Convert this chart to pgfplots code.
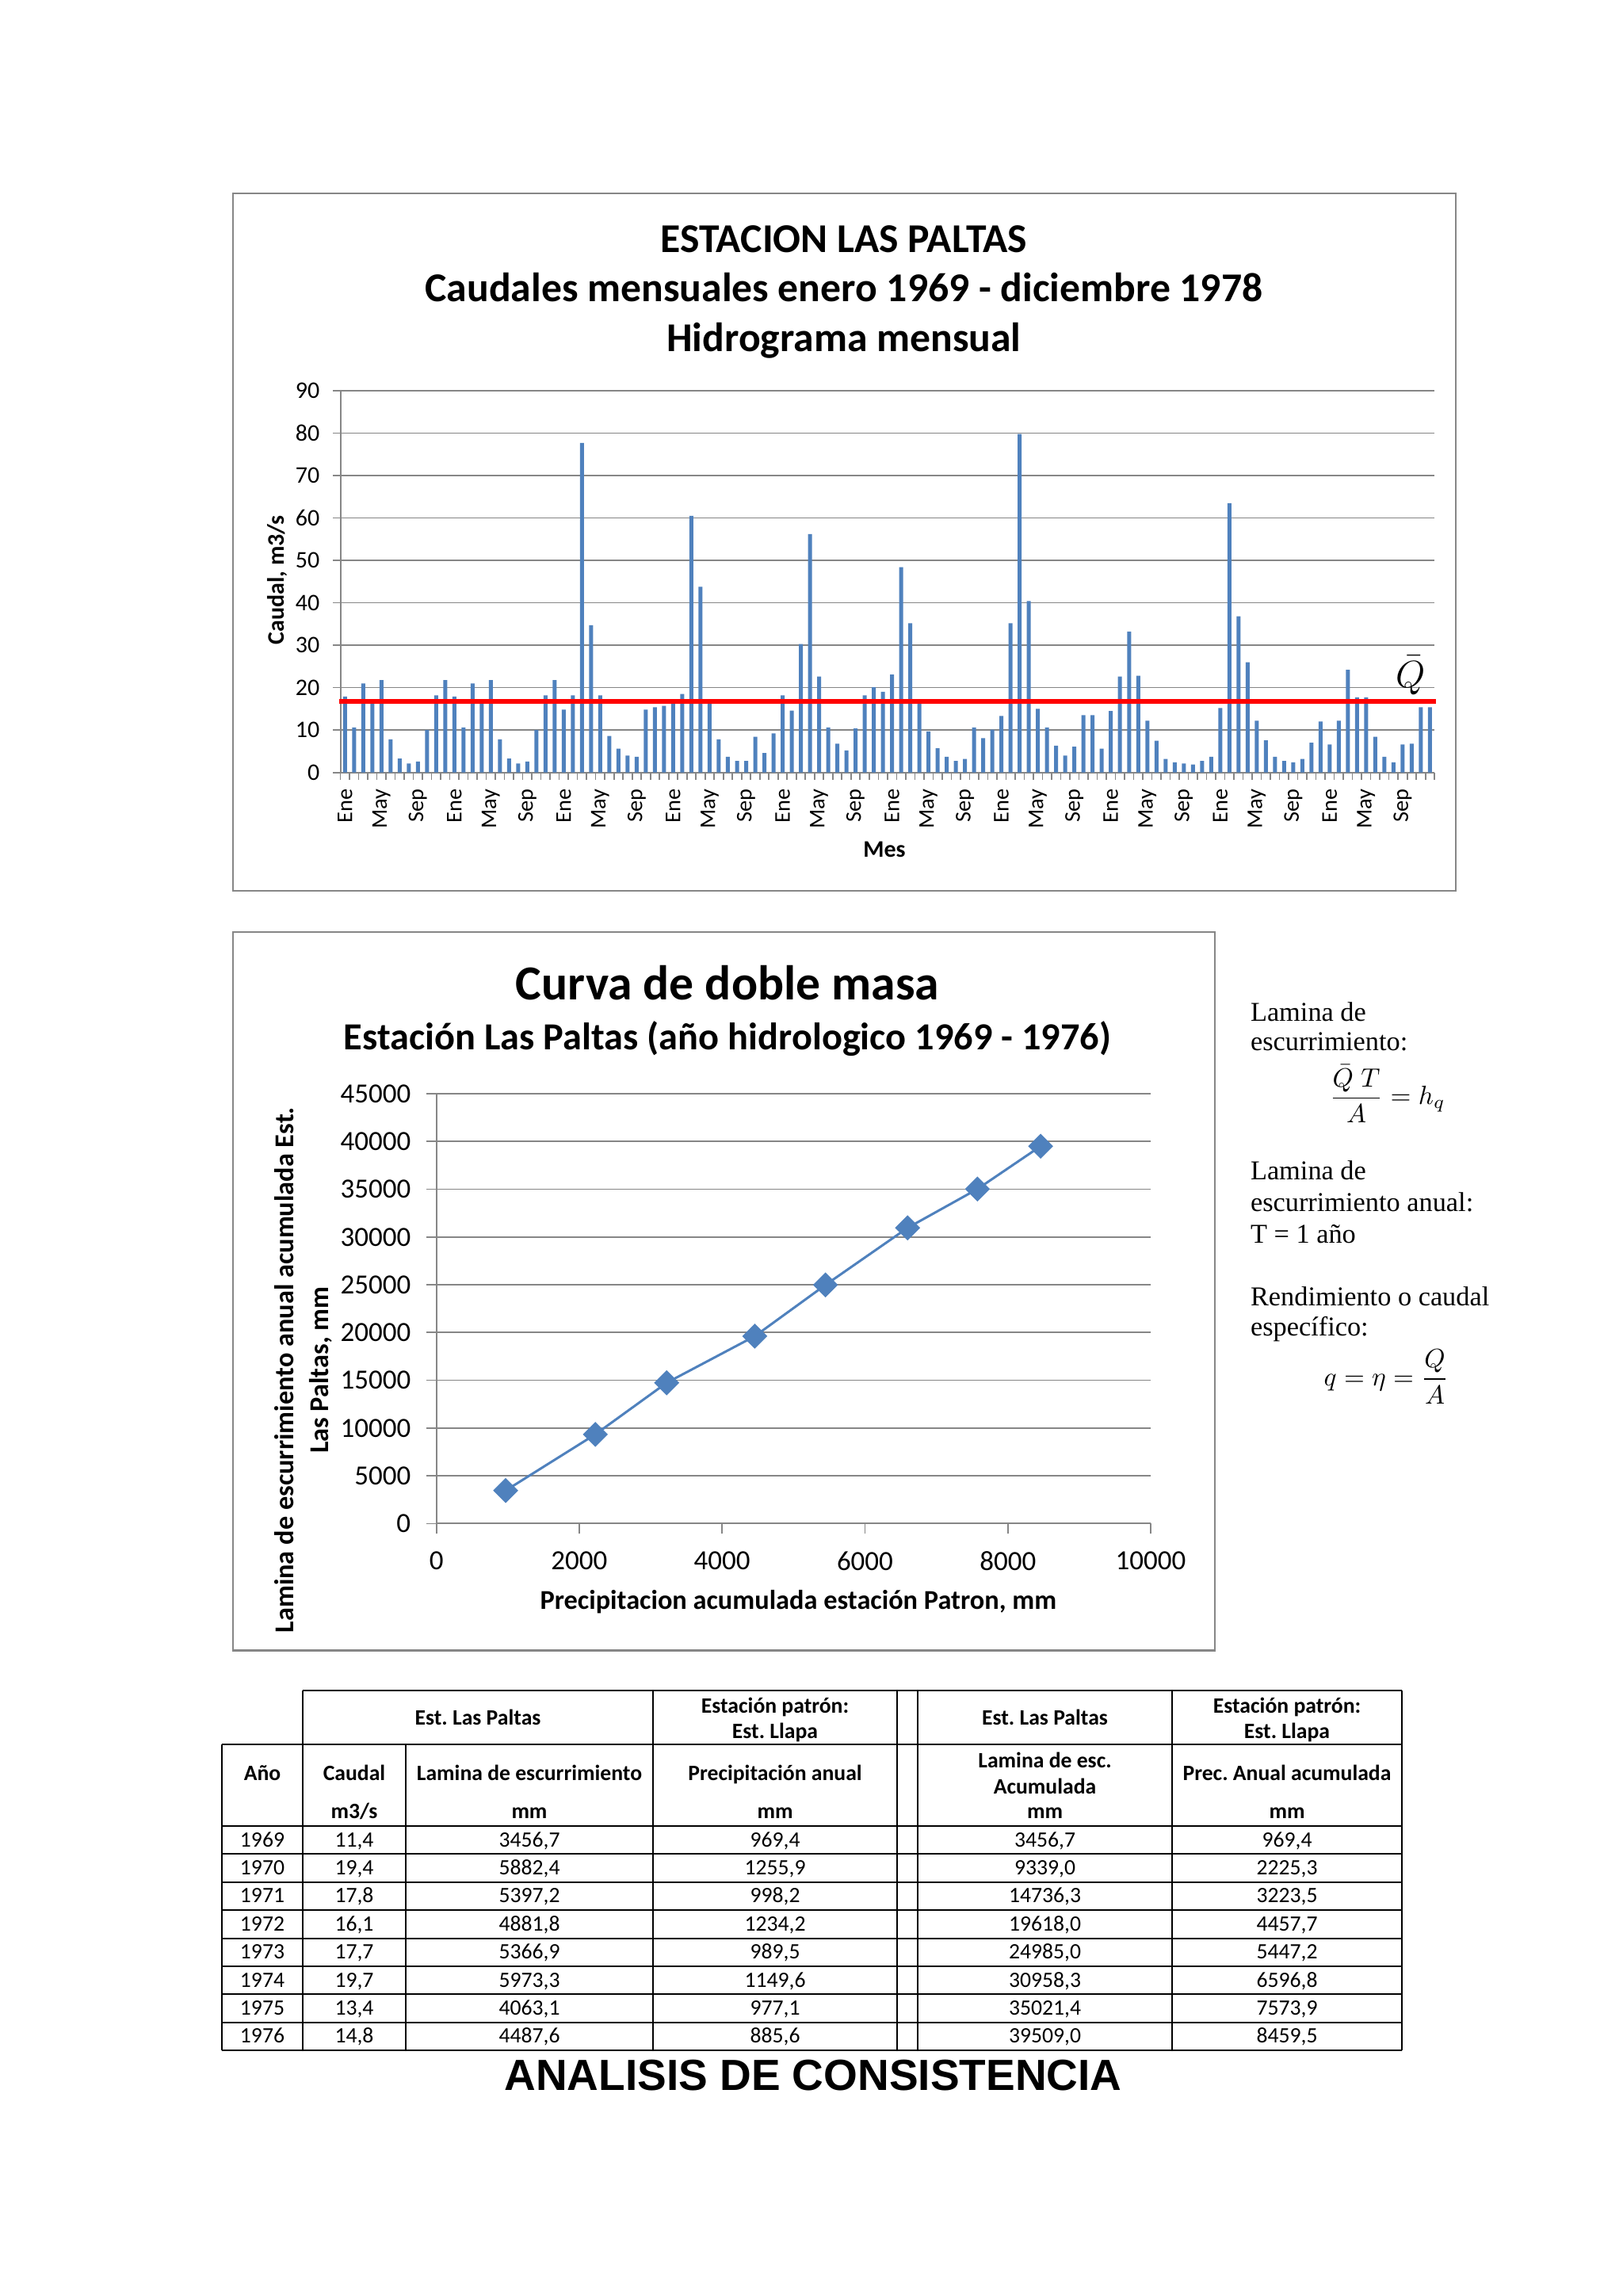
\documentclass[border=0pt]{standalone}
\usepackage{amsmath}
\usepackage{pgfplots}
\pgfplotsset{compat=1.18}
\usepackage{pgfplotstable}
\usepackage{fontspec}
\setmainfont{Carlito}
\newfontfamily\timesf{Liberation Serif}
\newfontfamily\arialf{Liberation Sans}
\definecolor{xlblue}{RGB}{79,129,189}
\definecolor{xlgrid}{RGB}{134,134,134}
\frenchspacing

% caudales mensuales 1969-1978 (m3/s), mes 1..120
\pgfplotstableread[row sep=\\]{
m q\\
1 17.9\\ 2 10.6\\ 3 21.0\\ 4 16.5\\ 5 21.8\\ 6 7.8\\ 7 3.3\\ 8 2.1\\ 9 2.6\\ 10 10.0\\ 11 18.2\\ 12 21.8\\
13 17.9\\ 14 10.6\\ 15 21.0\\ 16 16.5\\ 17 21.8\\ 18 7.8\\ 19 3.3\\ 20 2.1\\ 21 2.6\\ 22 10.0\\ 23 18.2\\ 24 21.8\\
25 14.8\\ 26 18.2\\ 27 77.7\\ 28 34.7\\ 29 18.2\\ 30 8.6\\ 31 5.6\\ 32 4.0\\ 33 3.7\\ 34 14.8\\ 35 15.4\\ 36 15.7\\
37 16.3\\ 38 18.5\\ 39 60.5\\ 40 43.8\\ 41 16.3\\ 42 7.8\\ 43 3.7\\ 44 2.7\\ 45 2.7\\ 46 8.4\\ 47 4.6\\ 48 9.2\\
49 18.2\\ 50 14.6\\ 51 30.3\\ 52 56.2\\ 53 22.6\\ 54 10.6\\ 55 6.8\\ 56 5.2\\ 57 10.4\\ 58 18.2\\ 59 20.1\\ 60 19.0\\
61 23.1\\ 62 48.4\\ 63 35.2\\ 64 16.3\\ 65 9.7\\ 66 5.7\\ 67 3.7\\ 68 2.7\\ 69 3.2\\ 70 10.6\\ 71 8.1\\ 72 10.1\\
73 13.3\\ 74 35.2\\ 75 79.8\\ 76 40.4\\ 77 15.0\\ 78 10.6\\ 79 6.3\\ 80 4.0\\ 81 6.1\\ 82 13.5\\ 83 13.5\\ 84 5.6\\
85 14.5\\ 86 22.6\\ 87 33.2\\ 88 22.8\\ 89 12.2\\ 90 7.5\\ 91 3.2\\ 92 2.4\\ 93 2.1\\ 94 1.9\\ 95 2.7\\ 96 3.7\\
97 15.2\\ 98 63.5\\ 99 36.8\\ 100 26.0\\ 101 12.2\\ 102 7.6\\ 103 3.7\\ 104 2.7\\ 105 2.4\\ 106 3.2\\ 107 7.0\\ 108 12.0\\
109 6.6\\ 110 12.2\\ 111 24.2\\ 112 17.7\\ 113 17.7\\ 114 8.4\\ 115 3.7\\ 116 2.4\\ 117 6.6\\ 118 6.8\\ 119 15.4\\ 120 15.4\\
}\caudal

% doble masa: prec. acumulada patron vs lamina acumulada
\pgfplotstableread[row sep=\\]{
P L\\
969.4 3456.7\\
2225.3 9339.0\\
3223.5 14736.3\\
4457.7 19618.0\\
5447.2 24985.0\\
6596.8 30958.3\\
7573.9 35021.4\\
8459.5 39509.0\\
}\masa

\newcommand\tabf{\fontsize{8.3}{10}\selectfont}
\newcommand\tabb{\bfseries\fontsize{8.3}{10}\selectfont}
\newcommand\sidef{\timesf\fontsize{10.3}{12}\selectfont}

\begin{document}
\begin{tikzpicture}
\path[use as bounding box] (0,0) rectangle (614.4pt,-869.1pt);
\fill[white] (0,0) rectangle (614.4pt,-869.1pt);

%% ---------- hidrograma ----------
\draw[xlgrid, line width=0.7pt] (88.2pt,-73.2pt) rectangle (551.1pt,-337.2pt);
\node[anchor=base, font=\bfseries\fontsize{15.5}{15.5}\selectfont] at (319.5pt,-95.6pt) {ESTACION LAS PALTAS};
\node[anchor=base, font=\bfseries\fontsize{15.5}{15.5}\selectfont] at (319.5pt,-114.2pt) {Caudales mensuales enero 1969 - diciembre 1978};
\node[anchor=base, font=\bfseries\fontsize{15.5}{15.5}\selectfont] at (319.5pt,-133.1pt) {Hidrograma mensual};
\node[rotate=90, font=\bfseries\fontsize{9}{9}\selectfont] at (105pt,-219.6pt) {Caudal, m3/s};
\node[font=\bfseries\fontsize{9}{9}\selectfont] at (334.8pt,-321.6pt) {Mes};

\begin{axis}[
  at={(128.85pt,-292.4pt)}, anchor=south west,
  scale only axis, width=414.2pt, height=144.5pt,
  xmin=0.5, xmax=120.5, ymin=0, ymax=90,
  axis x line*=bottom, axis y line*=left,
  axis line style={xlgrid, line width=0.6pt, -},
  tick align=outside, major tick length=2.8pt,
  tick style={xlgrid, line width=0.5pt},
  ytick={0,10,...,90}, ymajorgrids,
  grid style={xlgrid, line width=0.5pt},
  xtick={0.5,1.5,...,120.5},
  x tick label as interval,
  xticklabel={\pgfmathtruncatemacro\mm{mod(\ticknum,12)}\ifcase\mm Ene\or\or\or\or May\or\or\or\or Sep\or\or\or\or\fi},
  xticklabel style={rotate=90, anchor=east, font=\fontsize{8.5}{8.5}\selectfont},
  yticklabel style={font=\fontsize{9}{9}\selectfont, xshift=-1.5pt},
  /pgf/number format/assume math mode=true,
  clip=false,
]
\addplot[ybar, bar width=1.5pt, fill=xlblue, draw=none] table[x=m, y=q] {\caudal};
\addplot[red, line width=1.8pt] coordinates {(0.4,16.75) (120.7,16.75)};
\node at (axis cs:117.9,22.9) {\fontsize{14}{14}\selectfont$\bar{Q}$};
\end{axis}

%% ---------- curva de doble masa ----------
\draw[xlgrid, line width=0.7pt] (88.2pt,-352.8pt) rectangle (459.9pt,-624.7pt);
\node[anchor=base, font=\bfseries\fontsize{18.5}{18.5}\selectfont] at (275.4pt,-378.3pt) {Curva de doble masa};
\node[anchor=base, font=\bfseries\fontsize{14.5}{14.5}\selectfont] at (275.4pt,-397.3pt) {Estación Las Paltas (año hidrologico 1969 - 1976)};
\node[rotate=90, align=center, font=\bfseries\fontsize{10.3}{13.2}\selectfont] at (114.8pt,-518.6pt) {Lamina de escurrimiento anual acumulada Est.\\Las Paltas, mm};
\node[font=\bfseries\fontsize{10.3}{10.3}\selectfont] at (302.2pt,-606.3pt) {Precipitacion acumulada estación Patron, mm};

\begin{axis}[
  at={(165.2pt,-576.7pt)}, anchor=south west,
  scale only axis, width=270.4pt, height=162.7pt,
  xmin=0, xmax=10000, ymin=0, ymax=45000,
  xtick={0,2000,...,10000}, ytick={0,5000,...,45000},
  scaled ticks=false,
  axis x line*=bottom, axis y line*=left,
  axis line style={xlgrid, line width=0.6pt, -},
  tick align=outside, major tick length=3.8pt,
  tick style={xlgrid, line width=0.5pt},
  ymajorgrids, grid style={xlgrid, line width=0.5pt},
  xticklabel style={font=\fontsize{10.5}{10.5}\selectfont, yshift=-3.2pt},
  yticklabel style={font=\fontsize{10.5}{10.5}\selectfont, xshift=-2.4pt},
  /pgf/number format/assume math mode=true,
  /pgf/number format/1000 sep={},
  clip=false,
]
\addplot[xlblue, line width=0.9pt, mark=square*, mark size=2.9pt, mark options={rotate=45, solid}] table[x=P, y=L] {\masa};
\end{axis}

%% ---------- texto lateral ----------
\begin{scope}[every node/.style={inner sep=0pt, anchor=base west, font=\sidef}]
\node at (473.2pt,-386.4pt) {Lamina de};
\node at (473.2pt,-397.7pt) {escurrimiento:};
\node at (503.1pt,-418.1pt) {$\dfrac{\bar{Q}\;T}{A} = h_q$};
\node at (473.2pt,-446.4pt) {Lamina de};
\node at (473.2pt,-458.6pt) {escurrimiento anual:};
\node at (473.2pt,-470.6pt) {T = 1 año};
\node at (473.2pt,-494.1pt) {Rendimiento o caudal};
\node at (473.2pt,-505.6pt) {específico:};
\node at (501pt,-524.5pt) {$q = \eta = \dfrac{Q}{A}$};
\end{scope}

%% ---------- tabla ----------
\begin{scope}[line width=0.6pt]
\draw (114.6pt,-639.9pt) -- (530.7pt,-639.9pt);
\draw (84pt,-660.3pt) -- (530.7pt,-660.3pt);
\foreach \k in {0,...,8}
  \draw (84pt,{-691.2pt-10.62pt*\k}) -- (530.7pt,{-691.2pt-10.62pt*\k});
\foreach \x in {114.6,247.2,339.6,347.4,443.7,530.7}
  \draw (\x pt,-639.9pt) -- (\x pt,-660.3pt);
\foreach \x in {84,114.6,153.6,247.2,339.6,347.4,443.7,530.7}
  \draw (\x pt,-660.3pt) -- (\x pt,-776.16pt);
\end{scope}

\node[anchor=base, font=\tabb] at (180.9pt,-652.8pt) {Est. Las Paltas};
\node[anchor=base, font=\tabb] at (293.4pt,-648.3pt) {Estación patrón:};
\node[anchor=base, font=\tabb] at (293.4pt,-657.9pt) {Est. Llapa};
\node[anchor=base, font=\tabb] at (395.55pt,-652.8pt) {Est. Las Paltas};
\node[anchor=base, font=\tabb] at (487.2pt,-648.3pt) {Estación patrón:};
\node[anchor=base, font=\tabb] at (487.2pt,-657.9pt) {Est. Llapa};

\node[anchor=base, font=\tabb] at (99.3pt,-673.8pt) {Año};
\node[anchor=base, font=\tabb] at (134.1pt,-673.8pt) {Caudal};
\node[anchor=base, font=\tabb] at (134.1pt,-688.3pt) {m3/s};
\node[anchor=base, font=\tabb] at (200.4pt,-673.8pt) {Lamina de escurrimiento};
\node[anchor=base, font=\tabb] at (200.4pt,-688.3pt) {mm};
\node[anchor=base, font=\tabb] at (293.4pt,-673.8pt) {Precipitación anual};
\node[anchor=base, font=\tabb] at (293.4pt,-688.3pt) {mm};
\node[anchor=base, font=\tabb] at (395.55pt,-669pt) {Lamina de esc.};
\node[anchor=base, font=\tabb] at (395.55pt,-678.9pt) {Acumulada};
\node[anchor=base, font=\tabb] at (395.55pt,-688.3pt) {mm};
\node[anchor=base, font=\tabb] at (487.2pt,-673.8pt) {Prec. Anual acumulada};
\node[anchor=base, font=\tabb] at (487.2pt,-688.3pt) {mm};

\foreach \yr/\q/\l/\p/\la/\pa [count=\k from 0] in {
  1969/11{,}4/3456{,}7/969{,}4/3456{,}7/969{,}4,
  1970/19{,}4/5882{,}4/1255{,}9/9339{,}0/2225{,}3,
  1971/17{,}8/5397{,}2/998{,}2/14736{,}3/3223{,}5,
  1972/16{,}1/4881{,}8/1234{,}2/19618{,}0/4457{,}7,
  1973/17{,}7/5366{,}9/989{,}5/24985{,}0/5447{,}2,
  1974/19{,}7/5973{,}3/1149{,}6/30958{,}3/6596{,}8,
  1975/13{,}4/4063{,}1/977{,}1/35021{,}4/7573{,}9,
  1976/14{,}8/4487{,}6/885{,}6/39509{,}0/8459{,}5}
{
  \pgfmathsetmacro\yb{-691.2-10.62*(\k+0.5)-2.5}
  \node[anchor=base, font=\tabf] at (99.3pt,\yb pt) {\yr};
  \node[anchor=base, font=\tabf] at (134.1pt,\yb pt) {\q};
  \node[anchor=base, font=\tabf] at (200.4pt,\yb pt) {\l};
  \node[anchor=base, font=\tabf] at (293.4pt,\yb pt) {\p};
  \node[anchor=base, font=\tabf] at (395.55pt,\yb pt) {\la};
  \node[anchor=base, font=\tabf] at (487.2pt,\yb pt) {\pa};
}

\node[anchor=base, font=\arialf\bfseries\fontsize{16.5}{16.5}\selectfont] at (307.8pt,-791.1pt) {ANALISIS DE CONSISTENCIA};
\end{tikzpicture}
\end{document}
